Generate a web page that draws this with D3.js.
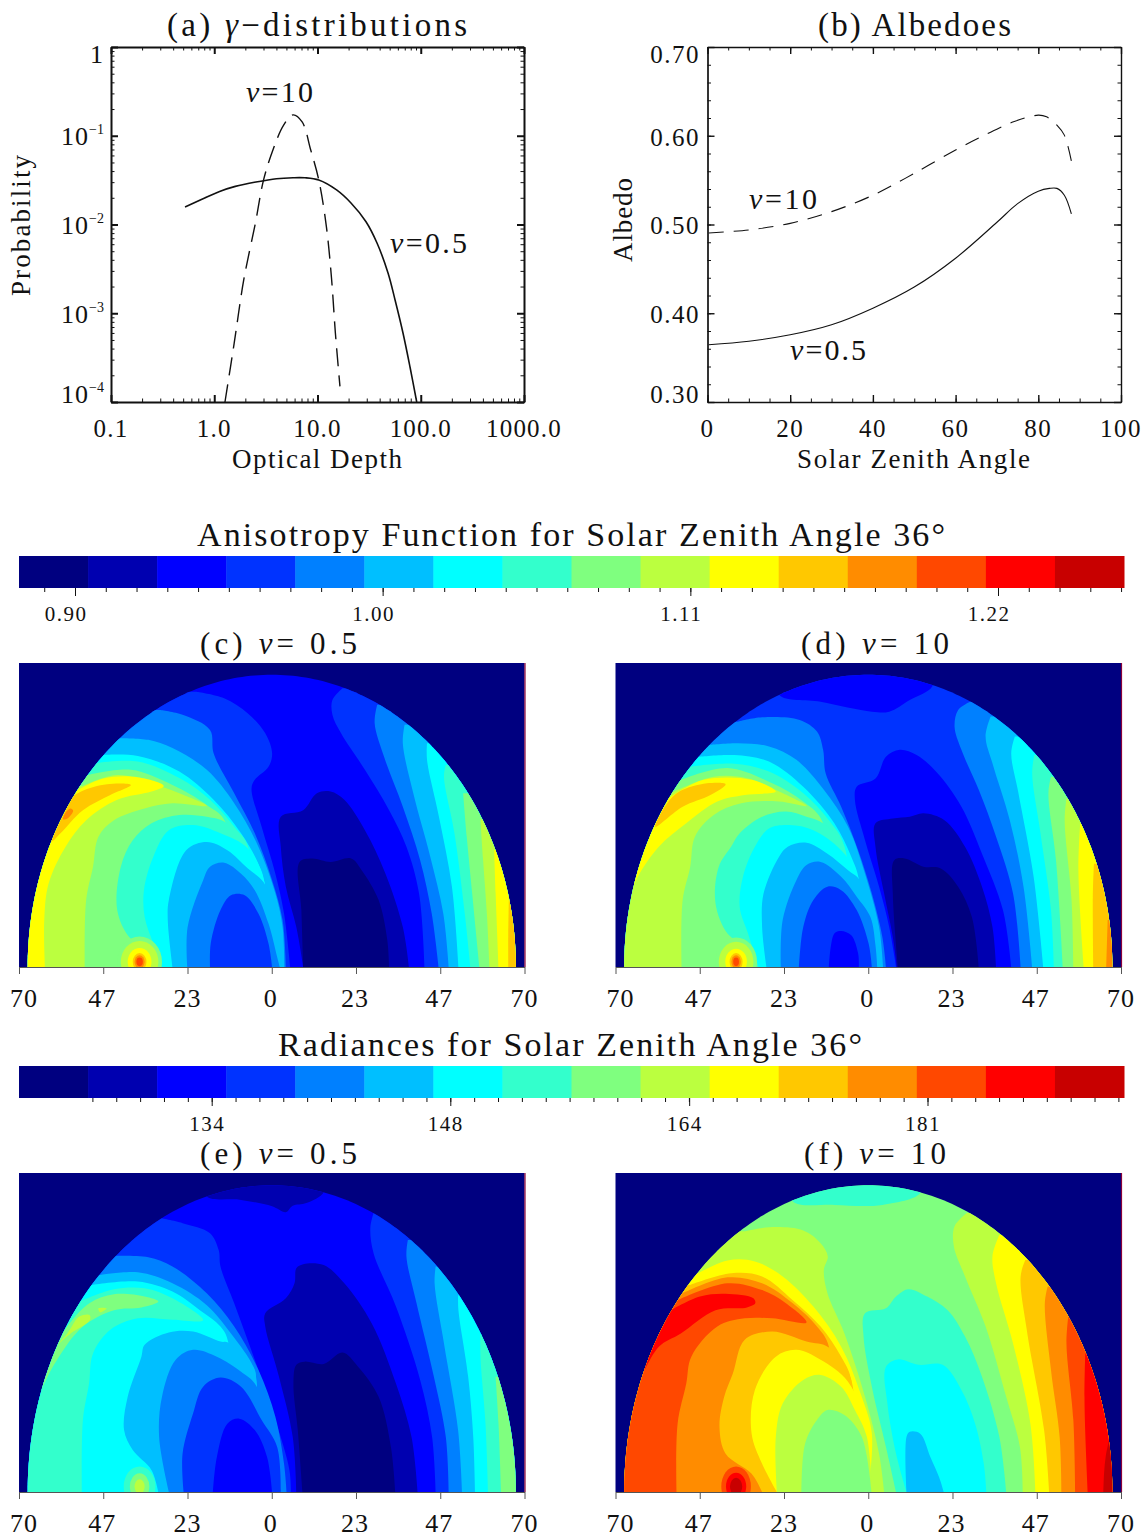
<!DOCTYPE html>
<html>
<head>
<meta charset="utf-8">
<script src="https://d3js.org/d3.v7.min.js"></script>
<style>
  body { margin: 0; background: #fff; }
  text { font-family: "Liberation Serif", serif; fill: #111; }
  .axis path, .axis line { stroke: #111; }
</style>
</head>
<body>
<div id="chart"></div>
<script>
// ---- top panels ----
const gamma05 = [[0.521,.01574],[0.75,.0191],[1.127,.0236],[1.6,.0269],[2.535,.0301],[4,.0328],[5.79,.03366],[7.57,.0336],[10.28,.0317],[15.3,.0245],[21.1,.01747],[29.5,.01075],[37.7,.00619],[48.2,.00284],[56.4,.00141],[67.3,.000599],[78.7,.000248],[91.4,.0001]];
const gamma10 = [[1.27,.0001],[1.56,.00046],[1.93,.00237],[2.5,.0103],[3,.0316],[3.7,.069],[4.7,.132],[5.8,.172],[7.1,.143],[8.6,.069],[10.3,.0316],[12.2,.0094],[13.7,.0024],[14.9,.0006],[16.5,.00015]];
const albedo05 = [[0.3,.3645],[10,.3685],[20,.3757],[30,.387],[40,.4057],[50,.4295],[60,.462],[70,.5025],[75,.5235],[80,.5375],[82.7,.5407],[84.5,.5407],[86.3,.533],[88,.5119]];
const albedo10 = [[0.3,.4905],[10,.4939],[20,.5013],[30,.5145],[40,.533],[50,.5576],[60,.584],[67,.6007],[74,.6157],[80,.6232],[82,.6213],[84.5,.612],[86.3,.6007],[88.2,.567]];

const depthTicks = [0.1, 1, 10, 100, 1000];
const depthLabels = ["0.1", "1.0", "10.0", "100.0", "1000.0"];
const probTicks = [1, 0.1, 0.01, 0.001, 0.0001];
const probExps = ["", "\u22121", "\u22122", "\u22123", "\u22124"];
const szaTicks = [0, 20, 40, 60, 80, 100];
const albedoTicks = [0.3, 0.4, 0.5, 0.6, 0.7];

// ---- colour levels and colour bars ----
const levelColors = ["#000080","#0000b0","#0000ff","#0033ff","#0080ff","#00bfff","#00ffff","#33ffcc","#7fff7f","#bbff3f","#ffff00","#ffc800","#ff8c00","#ff4800","#ff0000","#c80000"];
const anisoTicks = [0.905, 1.0, 1.105, 1.221];
const anisoLabels = ["0.90", "1.00", "1.11", "1.22"];
const radTicks = [134.2, 148.3, 163.9, 181.1];
const radLabels = ["134", "148", "164", "181"];

const angleTicks = [-70, -46.67, -23.33, 0, 23.33, 46.67, 70];
const angleLabels = ["70", "47", "23", "0", "23", "47", "70"];
const domeX = 67.6, domeY = 67.3;
const spotCentre = [-36.6, 1.2];

// contour outlines: [level, closure, [[view angle x, view angle y], ...]]
const panelC = [
  [3,"R",[[19.6,64.2],[16.8,61.5],[16.8,58.1],[19.2,53.8],[25.8,45.4],[32.5,36.1],[37.3,27.7],[40.8,16.9],[42.3,0]]],
  [4,"R",[[29.2,60.4],[28.5,56.1],[31.1,48.4],[36.3,36.9],[41.1,24.6],[44.3,12.3],[46.2,0]]],
  [5,"R",[[36.8,55.8],[36.3,51.5],[39.2,40],[43.9,25.4],[47.5,12.3],[49,0]]],
  [6,"R",[[43,51.5],[43,47.7],[46.3,34.6],[49.9,18.5],[51.7,0]]],
  [7,"R",[[48.2,46.5],[47.7,43.8],[50.6,30.8],[53.5,12],[55,0]]],
  [8,"R",[[53,40],[54,30],[55.5,17],[57.5,0]]],
  [9,"R",[[57.8,34],[58.5,25],[59.6,12],[60.3,0]]],
  [10,"R",[[61.6,27],[62,17],[62.8,0]]],
  [11,"R",[[65.7,17],[65.5,8],[65.5,0]]],
  [1,"B",[[8.7,0],[6.8,9.2],[3.9,18.5],[2.5,27.7],[2.5,34.6],[8.7,36.1],[12.5,40],[16.3,40.4],[20.1,38.5],[25.8,31.5],[31.5,21.5],[36.3,9.2],[38,0]]],
  [0,"B",[[8.7,0],[8.2,13.1],[7.7,24.2],[11.1,25],[16.3,24.2],[22,25],[24.9,22.3],[29.6,15.4],[32,6.2],[32.5,0]]],
  [3,"L",[[-20.9,63.4],[-13.2,61.9],[-6.6,58.4],[-1.8,53.8],[0.1,49.2],[-0.9,46.1],[-4.7,43.1],[-5.6,41.1],[-2.8,32.3],[1,21.5],[3.4,12.3],[5.1,0]]],
  [4,"L",[[-30.9,59.2],[-24.7,58.1],[-17.1,54.6],[-16.1,49.2],[-10.4,40],[-4.7,30.8],[0.1,20],[3,10.8],[3.9,0]]],
  [5,"L",[[-41.8,52.7],[-34.2,52.3],[-27.5,50.4],[-18,45.4],[-10.4,37.7],[-3.7,27.7],[1,16.9],[3,9.2],[3.5,0]]],
  [6,"L",[[-47.1,48.8],[-37.1,48.6],[-25.6,45],[-16.1,38.5],[-8.5,30.8],[-3.7,23.8],[-2,19.4],[-2,0]]],
  [7,"L",[[-49,46.9],[-37.1,47.3],[-25.6,43.5],[-17.1,38.5],[-10.4,32.3],[-6.6,27.7],[-6.6,0]]],
  [8,"L",[[-50.9,44.2],[-39,45.4],[-27.5,41.9],[-18,37.3],[-12.8,33.3],[-12.8,0]]],
  [7,"B",[[-32.3,0],[-34.2,3.8],[-39.5,6.9],[-42.8,13.1],[-41.8,23.1],[-38.5,29.2],[-33.3,33.1],[-25.6,35],[-18,34.6],[-12.8,33.3],[-6.6,27.7],[-6.6,0]]],
  [6,"B",[[-30.4,0],[-32.8,5.4],[-35.2,11.5],[-35.4,17.7],[-32.8,25.4],[-28.5,31.5],[-21.8,32.7],[-14.2,30.8],[-6.6,27.3],[-2,19.4],[-2,0]]],
  [5,"B",[[-27.5,0],[-28.8,10.8],[-28.5,15.4],[-23.7,26.9],[-18,28.8],[-12.3,26.9],[-6.6,22.7],[-2.3,19.6],[1,13.1],[3,4.6],[3.3,0]]],
  [4,"B",[[-23.4,0],[-23.3,9.2],[-19,20],[-17.1,23.1],[-13.2,24],[-8.5,21.5],[-4.7,17.7],[-0.9,10],[1.5,2.3],[2.2,0]]],
  [3,"B",[[-17.1,0],[-16.9,5.4],[-14.2,13.1],[-11.3,16.5],[-7.5,16.5],[-3.7,12.3],[-0.9,5.4],[0.1,0]]],
  [9,"L",[[-52.3,41.7],[-42.8,44.2],[-33.3,42.3],[-25.6,40],[-18,37.1],[-27.5,37.7],[-35.2,36.5],[-43.7,33.8],[-48,30],[-49.5,23.1],[-51.4,15.4],[-51.8,0]]],
  [10,"L",[[-54,40.6],[-46.6,43.4],[-37.1,43.7],[-29.9,41.7],[-33.3,40.4],[-42.8,38.5],[-51.4,33.8],[-57.1,27.7],[-61.8,19.2],[-63,10.8],[-62.8,0]]],
  [11,"C",[[-39,41.9],[-44.7,39.6],[-52.3,36.1],[-58.5,30.8],[-61.1,28.8],[-62.8,28.8],[-57.1,37.7],[-52.8,40.4],[-45.6,42.1]]],
  [12,"C",[[-55.7,36.5],[-55,36],[-56.6,34.2],[-57.8,34],[-56.9,35.8]]]
];
const spotC = [[8,6.2,5.8],[9,5.2,4.8],[10,3.3,3.2],[11,1.9,2],[12,1.4,1.5],[13,0.9,1]];

const panelD = [
  [2,"C",[[-24.7,62.7],[-13.2,61.1],[1,58.8],[5.8,58.8],[11.5,61.5],[17.7,64.6],[17.7,69],[-24.7,69]]],
  [4,"R",[[28.2,61.1],[24.9,59.2],[23.9,55.4],[25.8,50],[30.6,40.8],[35.4,30],[40.1,16.9],[42.2,0]]],
  [5,"R",[[33.9,57.7],[32.5,53.1],[34.4,46.9],[39.2,33.8],[43,18.5],[45.4,0]]],
  [6,"R",[[40.6,53.1],[39.6,49.2],[41.6,40],[45.8,20.8],[48.5,0]]],
  [7,"R",[[46,48.8],[45.4,44.6],[47.7,30.8],[50.6,13.1],[51.4,0]]],
  [8,"R",[[50.6,43.8],[49.9,40],[52,24.6],[53.9,0]]],
  [9,"R",[[54.9,38.8],[54.4,33.8],[56.3,15.4],[56.8,0]]],
  [10,"R",[[58.7,33.1],[58.2,22.3],[59.7,0]]],
  [11,"R",[[62.5,23.8],[62.2,16.9],[62.3,0]]],
  [12,"R",[[66.3,10.8],[65.9,0]]],
  [2,"B",[[7.7,0],[5.8,9.2],[3,18.5],[-0.9,29.2],[-3.7,38.5],[-3.2,41.5],[2,43.4],[4.9,48.4],[8.7,50],[13.4,48.8],[19.2,44.6],[25.8,36.9],[31.5,26.1],[37.3,13.1],[39.6,0]]],
  [1,"B",[[7.9,0],[6.8,6.9],[4.4,16.9],[2,27.7],[2,33.1],[6.8,34.2],[11.5,34.6],[15.3,35.4],[21.1,33.8],[26.8,27.7],[31.5,18.5],[34.4,9.2],[35.4,0]]],
  [0,"B",[[8.2,0],[6.8,16.9],[7.2,24.6],[10.1,25],[15.3,23.1],[20.1,22.7],[24.9,18.5],[28.7,11.5],[30.6,0]]],
  [4,"L",[[-36.1,56.5],[-29.4,57.5],[-19,56.9],[-14.2,54.2],[-12.5,50],[-11.8,44.6],[-7.5,36.9],[-2.8,26.9],[1,16.9],[3.9,6.9],[4.9,0]]],
  [5,"L",[[-44.2,51.1],[-36.1,51.5],[-27.5,50.8],[-19.9,47.7],[-12.3,40.8],[-5.6,32.3],[-0.9,21.5],[3,9.2],[4.1,0]]],
  [6,"L",[[-47.1,48.4],[-37.1,48.8],[-27.5,47.3],[-18,41.5],[-9.4,33.1],[-4.7,25.4],[-2.6,20.1],[-2.6,0]]],
  [7,"L",[[-49.5,46.1],[-37.1,46.8],[-27.5,45],[-18,40],[-10.9,33.8],[-6.6,27.7],[-6.6,0]]],
  [8,"L",[[-51.8,43.1],[-39,45.8],[-26.6,42.3],[-18,38.1],[-12.5,33.1],[-12.5,0]]],
  [7,"B",[[-32.3,0],[-34.2,4.6],[-39,7.7],[-42.3,14.6],[-41.4,23.1],[-38,27.7],[-35.6,30.8],[-29.4,34.6],[-22.8,35.8],[-17.1,34.6],[-12.5,33.1],[-6.6,27.7],[-6.6,0]]],
  [6,"B",[[-30.4,0],[-33.3,7.7],[-35.6,13.8],[-34.7,20.8],[-31.4,27.7],[-27.5,31.9],[-21.8,32.7],[-15.2,31.5],[-7.5,26.9],[-2.6,20.1],[-2.6,0]]],
  [5,"B",[[-28.2,0],[-29.4,9.2],[-29,16.9],[-24.7,25.4],[-22.3,27.7],[-17.1,28.6],[-11.3,26.1],[-5.6,22.3],[-2.3,20],[1,11.5],[3.4,1.5],[3.4,0]]],
  [4,"B",[[-24.2,0],[-23.7,10.8],[-19.9,20],[-17.1,23.5],[-13.2,24.2],[-7.5,20.8],[-3.2,16.2],[0.6,11.5],[2,5],[2.5,0]]],
  [3,"B",[[-19.2,0],[-18,9.2],[-15.2,15.4],[-11.3,18.5],[-7.5,17.7],[-3.2,13.1],[0.1,5.4],[1,0]]],
  [2,"B",[[-10.9,0],[-9.4,7.7],[-7.5,8.3],[-4.7,7.3],[-2.8,3.1],[-2.6,0]]],
  [9,"L",[[-53.7,40.4],[-42.8,43.8],[-33.3,43.4],[-24.7,40.4],[-17.1,37.1],[-24.7,38.1],[-35.2,37.7],[-42.8,35],[-48,30],[-49.3,23.1],[-51.4,15.4],[-51.7,0]]],
  [10,"L",[[-54.7,39.2],[-45.6,43.1],[-32.3,43.1],[-25.6,40.4],[-34.2,39.6],[-41.8,38.1],[-50.4,33.1],[-58,27.7],[-63.8,20.8],[-65.7,16.9]]],
  [11,"C",[[-39.5,42.1],[-44.7,42.3],[-52.3,40.4],[-55.7,37.7],[-59,32.3],[-51.4,36.9],[-43.7,39.6]]]
];
const spotD = [[8,5.8,5.6],[9,4.8,4.6],[10,3,3],[11,1.8,2],[12,1.3,1.5],[13,0.8,1]];

const panelE = [
  [1,"C",[[-18,64.9],[-8.5,64.1],[0.1,62.7],[3.9,61.4],[5.8,62.8],[9.6,63.4],[14.4,65.8],[14.4,69.3],[-18,69.3]]],
  [3,"R",[[28.2,61.2],[27.3,57.9],[28.2,52.4],[34.4,40.7],[41.1,24.6],[44.4,12.1],[45.4,0]]],
  [4,"R",[[37.7,55.3],[37.3,51.7],[40.1,41.4],[44.9,25.3],[48.2,12.1],[49,0]]],
  [5,"R",[[45.4,49.5],[45.1,45.8],[47.7,32.6],[51.6,13.6],[52.7,0]]],
  [6,"R",[[51.6,43.2],[51.7,39.9],[54.4,25.3],[55.8,12.1],[56.3,0]]],
  [7,"R",[[57.8,34.8],[57.8,29.7],[59.2,15],[59.9,0]]],
  [8,"R",[[62,25.3],[62.8,15],[63.5,0]]],
  [1,"B",[[6.8,0],[5.8,12.1],[2,25.3],[-1.8,36.3],[-1.8,39.2],[3.9,42.5],[6.3,45.8],[6.8,49.1],[8.7,50],[14.4,49.8],[20.1,45.8],[27.7,37],[34.4,23.8],[38.7,12.1],[40.4,0]]],
  [0,"B",[[8.5,0],[7.2,13.6],[6,23.8],[6.8,27.9],[9.1,28.6],[14.4,28.1],[19.6,30.6],[23.9,27.5],[29.6,20.9],[33,9.9],[34.2,0]]],
  [3,"L",[[-30.9,60.1],[-24.7,59],[-17.1,56.8],[-14.7,53.1],[-14.2,49.5],[-10.4,41.4],[-4.7,29],[1,15.8],[4.9,4.8],[5.3,0]]],
  [4,"L",[[-43.3,51.8],[-34.2,51.5],[-27.5,49.5],[-18,43.6],[-10.4,36.3],[-3.7,26.8],[1,16.5],[3.4,6.2],[4.1,0]]],
  [5,"L",[[-47.6,47.6],[-37.1,48.2],[-27.5,45.8],[-18,41],[-11.3,34.8],[-5.1,27.5],[-4.2,23.8],[-4.2,0]]],
  [6,"L",[[-50.2,45.4],[-37.1,46.2],[-27.5,44],[-19.9,39.9],[-14.2,36.3],[-12.1,33],[-12.1,0]]],
  [7,"L",[[-52.3,42.1],[-43.7,44.5],[-35.2,44.7],[-27.5,42.5],[-19,37.7],[-27.5,37.8],[-37.1,38.1],[-44.7,35.6],[-49.5,30.4],[-50.6,23.8],[-52.3,15.8],[-52.6,0]]],
  [5,"B",[[-31.4,0],[-33.3,4.8],[-38.5,9.2],[-40.9,13.6],[-39.9,20.9],[-36.1,29.7],[-35.2,32.3],[-28.5,35],[-21.8,35.2],[-14.2,33],[-12.1,32.8],[-8.5,29.7],[-5.1,27.5],[-4.2,24.2],[-4.2,0]]],
  [4,"B",[[-28.5,0],[-31.2,12.1],[-30.4,20.9],[-26.6,29],[-21.8,31.2],[-15.2,29.7],[-8.5,26.4],[-4.7,23.8],[0.1,14.3],[2.5,6.2],[3.1,0]]],
  [3,"B",[[-24.4,0],[-24.7,8.4],[-21.8,17.2],[-19,23.1],[-14.2,25.1],[-8.5,23.1],[-2.8,15.8],[1.5,9.9],[2.5,0]]],
  [2,"B",[[-16.3,0],[-15.2,7.7],[-12.3,15],[-9,16.1],[-4.7,13.6],[-1.3,7.7],[0.1,0]]],
  [8,"C",[[-31.4,41.8],[-35.2,42.9],[-43.7,43.4],[-50.4,41.5],[-56,37],[-60,32],[-66,18],[-70,10],[-63.8,22.4],[-59.6,28.8],[-52.3,36.3],[-43.7,39.9],[-36.1,40.5]]],
  [9,"C",[[-50.4,38.8],[-53.3,38.5],[-56.6,34.8],[-59,32.6],[-55.7,34.8],[-50.4,37.7]]],
  [9,"C",[[-48,40.3],[-45.7,40.3],[-47.5,39.4]]]
];
const spotE = [[7,4.4,4.4],[8,2.7,2.9],[9,1.4,1.6]];

const panelF = [
  [7,"C",[[-20.9,63.8],[-9.4,63],[3.9,63],[14.4,65.6],[14.4,69.3],[-20.9,69.3]]],
  [9,"R",[[27.3,61.2],[23.9,58.3],[23.7,53.9],[26.8,47.3],[32.5,36.3],[38.2,20.9],[42,9.9],[42.8,0]]],
  [10,"R",[[36.3,56.4],[34.4,51.7],[35.4,45.8],[40.1,32.6],[44.9,15],[46.3,0]]],
  [11,"R",[[43.5,50.9],[42.2,47.3],[43.9,35.6],[48.7,13.6],[50.1,0]]],
  [12,"R",[[49.7,45.1],[48.9,41.4],[50.6,26.8],[53,12.1],[53.5,0]]],
  [13,"R",[[55.4,38.5],[54.9,32.6],[56.8,15.8],[57.3,0]]],
  [14,"R",[[60.1,30.4],[59.9,19.4],[60.8,0]]],
  [15,"R",[[66.9,12],[65.8,8],[65.3,4],[65.1,0]]],
  [7,"B",[[7.7,0],[4.9,9.9],[1,23.1],[-1.3,34.1],[-0.9,39.2],[4.9,40.3],[7.7,42.9],[11.1,44.5],[16.3,42.9],[22,39.9],[26.8,34.1],[31.5,25.3],[36.3,12.1],[38.2,0]]],
  [6,"B",[[10.6,0],[7.7,8.4],[5.3,19.4],[4.9,27.5],[8.2,29.1],[13.9,27.9],[20.6,27.9],[25.8,22.4],[29.6,15],[32,6.2],[32.7,0]]],
  [5,"B",[[10.6,0],[10.6,12.1],[11.5,13.2],[14.4,12.8],[17.2,7.7],[19.6,3.3],[20.9,0]]],
  [9,"L",[[-34.2,57.2],[-27.5,58.1],[-18,57.4],[-13.2,54.6],[-11.2,51.7],[-12.3,48.7],[-11.3,43.6],[-6.6,34.8],[-0.9,20.9],[3,8.4],[4.4,0]]],
  [10,"L",[[-47.1,48],[-39,50.8],[-31.4,50.6],[-23.7,47.3],[-15.2,40.7],[-7.5,31.9],[-1.8,20.9],[1,12.8],[0,0]]],
  [11,"L",[[-49.5,45.4],[-37.9,48],[-29.4,47.3],[-20.9,42.1],[-13.2,36.3],[-7.5,29.7],[-4.7,24.6],[-4.7,0]]],
  [12,"L",[[-51.4,43.6],[-39,47.1],[-29.4,45.8],[-20.9,41.4],[-14.2,36.3],[-10.9,31.9],[-10.9,0]]],
  [11,"B",[[-29.4,0],[-32.3,4],[-39.5,8.4],[-41.2,14.3],[-39.9,20.9],[-37.5,26],[-34.2,33.4],[-26.6,35.2],[-17.1,33],[-10.9,31.7],[-4.7,24.6],[-4.7,0]]],
  [10,"B",[[-25.3,0],[-29.4,6.2],[-32.3,12.8],[-31.4,22.4],[-25.6,29.7],[-19.9,31.2],[-13.2,29],[-5.6,24.2],[0.1,12.8],[0.1,0]]],
  [9,"B",[[-25.3,0],[-25.6,12.1],[-23.7,19.4],[-18,24.6],[-13.2,25.7],[-7.5,23.1],[-3.7,18],[-0.4,12.1],[1,0]]],
  [8,"B",[[-18.5,0],[-17.5,10.6],[-14.2,15.8],[-11.3,18],[-6.6,16.9],[-1.8,12.1],[0.9,0]]],
  [13,"L",[[-52.8,42.1],[-39,45.8],[-29.4,44.3],[-22.8,41.4],[-17.1,37.2],[-26.6,38.1],[-34.2,38.1],[-41.8,36.3],[-49,29.7],[-50.4,23.8],[-52.8,15],[-53.1,0]]],
  [14,"L",[[-54.7,39.9],[-46.6,42.9],[-39.5,43.5],[-31.8,42.5],[-31.3,41.4],[-33.6,40.5],[-42.3,39.9],[-51.9,34.8],[-58,31.9],[-61.9,26.8]]]
];
const spotF = [[13,4.1,4.4],[14,2.8,3],[15,1.7,1.9]];

// ---- page ----
const svg = d3.select("#chart").append("svg").attr("width", 1148).attr("height", 1539);

// text helper, parts are [string, italic]
function label(x, y, parts, o) {
  o = o || {};
  const t = svg.append("text")
    .attr("x", x).attr("y", y)
    .attr("dominant-baseline", "central")
    .attr("text-anchor", o.anchor || "start")
    .style("font-size", (o.size || 25) + "px");
  if (o.len) t.attr("textLength", o.len).attr("lengthAdjust", "spacing");
  if (o.ls) t.style("letter-spacing", o.ls + "px");
  if (o.rot) t.attr("transform", `rotate(${o.rot} ${x} ${y})`);
  parts.forEach(p => t.append("tspan").style("font-style", p[1] ? "italic" : "normal").text(p[0]));
  return t;
}

// ---- (a) and (b) ----
const boxTop = 47, boxBottom = 402;
const xDepth = d3.scaleLog().domain([0.1, 1000]).range([111, 524]);
const yProb = d3.scaleLog().domain([0.0001, 1]).range([boxBottom, boxTop]);
const xSza = d3.scaleLinear().domain([0, 100]).range([707.5, 1121]);
const yAlb = d3.scaleLinear().domain([0.3, 0.7]).range([boxBottom, boxTop]);

function decades(lo, hi) {
  const out = [];
  for (let e = lo; e < hi; e++) for (let k = 2; k < 10; k++) out.push(k * Math.pow(10, e));
  return out;
}

function box(x, y, xMajor, xMinor, yMajor, yMinor, sw) {
  const [x0, x1] = x.range(), [y1, y0] = y.range();
  const sides = [
    [d3.axisBottom(x), `translate(0,${y1})`, xMajor, xMinor],
    [d3.axisTop(x), `translate(0,${y0})`, xMajor, xMinor],
    [d3.axisLeft(y), `translate(${x0},0)`, yMajor, yMinor],
    [d3.axisRight(y), `translate(${x1},0)`, yMajor, yMinor]
  ];
  sides.forEach(s => {
    svg.append("g").attr("class", "axis").attr("transform", s[1])
      .call(s[0].tickValues(s[3]).tickSize(-3.5).tickSizeOuter(0).tickFormat(""))
      .attr("stroke-width", 1);
    svg.append("g").attr("class", "axis").attr("transform", s[1])
      .call(s[0].tickValues(s[2]).tickSize(-7).tickSizeOuter(0).tickFormat(""))
      .attr("stroke-width", sw);
  });
}

box(xDepth, yProb, depthTicks, decades(-1, 3), probTicks, decades(-4, 0), 2);
box(xSza, yAlb, szaTicks, d3.range(0, 101, 5), albedoTicks, d3.range(0.3, 0.701, 0.02), 1.4);

const lineA = d3.line().x(d => xDepth(d[0])).y(d => yProb(d[1])).curve(d3.curveCatmullRom);
const lineB = d3.line().x(d => xSza(d[0])).y(d => yAlb(d[1])).curve(d3.curveCatmullRom);
svg.append("path").attr("d", lineA(gamma05)).attr("fill", "none").attr("stroke", "#111").attr("stroke-width", 1.6);
svg.append("path").attr("d", lineA(gamma10)).attr("fill", "none").attr("stroke", "#111").attr("stroke-width", 1.4).attr("stroke-dasharray", "18 9");
svg.append("path").attr("d", lineB(albedo05)).attr("fill", "none").attr("stroke", "#111").attr("stroke-width", 1.1);
svg.append("path").attr("d", lineB(albedo10)).attr("fill", "none").attr("stroke", "#111").attr("stroke-width", 1.1).attr("stroke-dasharray", "15 10");

depthTicks.forEach((v, i) => label(xDepth(v), 428, [[depthLabels[i]]], {anchor: "middle", ls: 1.2}));
const probY = [54, 136, 225, 314, 394];
probTicks.forEach((v, i) => {
  if (i === 0) { label(103, probY[i], [["1"]], {anchor: "end", size: 26}); return; }
  label(89, probY[i], [["10"]], {anchor: "end", ls: 1, size: 26});
  label(89, probY[i] - 7, [[probExps[i]]], {size: 14});
});
szaTicks.forEach(v => label(xSza(v), 428, [[String(v)]], {anchor: "middle", ls: 1.5}));
const albY = [394, 314, 225, 137, 54];
albedoTicks.forEach((v, i) => label(700, albY[i], [[v.toFixed(2)]], {anchor: "end", ls: 1.5}));

label(167, 25, [["(a) "], ["\u03b3", 1], ["\u2212distributions"]], {size: 33, len: 300});
label(818, 25, [["(b) Albedoes"]], {size: 33, len: 193});
label(232, 459, [["Optical Depth"]], {size: 27, len: 170});
label(797, 459, [["Solar Zenith Angle"]], {size: 27, len: 233});
label(21, 296, [["Probability"]], {size: 27, len: 141, rot: -90});
label(623, 262, [["Albedo"]], {size: 27, len: 84, rot: -90});
label(246, 91, [["\u03bd", 1], ["=10"]], {size: 30, len: 67});
label(390, 242, [["\u03bd", 1], ["=0.5"]], {size: 30, len: 77});
label(749, 198, [["\u03bd", 1], ["=10"]], {size: 30, len: 68});
label(790, 349, [["\u03bd", 1], ["=0.5"]], {size: 30, len: 76});

// ---- colour bars ----
function colourBar(yTop, ticks, labels, x0, x1, labelShift) {
  const band = d3.scaleBand().domain(d3.range(levelColors.length)).range([19, 1124]);
  svg.selectAll(null).data(levelColors).join("rect")
    .attr("x", (d, i) => band(i)).attr("y", yTop)
    .attr("width", band.bandwidth() + 0.5).attr("height", 32)
    .attr("fill", d => d);
  const scale = d3.scaleLog().domain([ticks[0], ticks[3]]).range([x0, x1]);
  const step = (x1 - x0) / 30;
  const minor = d3.range(-5, 45).map(k => x0 + k * step).filter(p => p >= 19 && p <= 1124).map(p => scale.invert(p));
  svg.append("g").attr("class", "axis").attr("transform", `translate(0,${yTop + 32})`)
    .call(d3.axisBottom(scale).tickValues(minor).tickSize(4).tickSizeOuter(0).tickFormat(""))
    .call(g => g.select(".domain").remove())
    .attr("stroke-width", 1);
  svg.append("g").attr("class", "axis").attr("transform", `translate(0,${yTop + 32})`)
    .call(d3.axisBottom(scale).tickValues(ticks).tickSize(8).tickSizeOuter(0).tickFormat(""))
    .call(g => g.select(".domain").remove())
    .attr("stroke-width", 1);
  ticks.forEach((v, i) => label(scale(v) - labelShift, yTop + 58, [[labels[i]]], {anchor: "middle", size: 21, ls: 1.5}));
}

label(197, 534, [["Anisotropy Function for Solar Zenith Angle 36\u00b0"]], {size: 34, len: 748});
colourBar(556, anisoTicks, anisoLabels, 75, 998, 9);
label(278, 1044, [["Radiances for Solar Zenith Angle 36\u00b0"]], {size: 34, len: 584});
colourBar(1066, radTicks, radLabels, 211.7, 927.5, 4.5);

label(200, 643, [["(c)  "], ["\u03bd", 1], ["=  0.5"]], {size: 31, len: 157});
label(801, 643, [["(d)  "], ["\u03bd", 1], ["=  10"]], {size: 31, len: 148});
label(200, 1153, [["(e)  "], ["\u03bd", 1], ["=  0.5"]], {size: 31, len: 157});
label(804, 1153, [["(f)  "], ["\u03bd", 1], ["=  10"]], {size: 31, len: 142});

// ---- contour panels ----
const panelWidth = 505.5;
const angleDx = [5, -1, 0, -1, -1, -1, 0];

function contourPanel(id, left, top, bottom, base, layers, spot) {
  const x = d3.scaleLinear().domain([-70, 70]).range([left, left + panelWidth]);
  const y = d3.scaleLinear().domain([0, 70]).range([bottom, top]);
  const clip = d3.line().x(d => x(domeX * Math.sin(d))).y(d => y(domeY * Math.cos(d)));

  svg.append("rect").attr("x", left).attr("y", top).attr("width", panelWidth).attr("height", bottom - top).attr("fill", levelColors[0]);
  svg.append("clipPath").attr("id", "dome" + id).append("path")
    .attr("d", clip(d3.range(-Math.PI / 2, Math.PI / 2 + 0.001, Math.PI / 180)) + "Z");
  const g = svg.append("g").attr("clip-path", `url(#dome${id})`);
  g.append("rect").attr("x", left).attr("y", top).attr("width", panelWidth).attr("height", bottom - top).attr("fill", levelColors[base]);

  const open = d3.line().x(d => x(d[0])).y(d => y(d[1])).curve(d3.curveCatmullRom);
  const closed = d3.line().x(d => x(d[0])).y(d => y(d[1])).curve(d3.curveCatmullRomClosed);
  layers.forEach(l => {
    const pts = l[2];
    const first = pts[0], last = pts[pts.length - 1];
    let d;
    if (l[1] === "C") d = closed(pts);
    else if (l[1] === "B") d = open(pts) + "Z";
    else {
      const side = x(l[1] === "L" ? -90 : 90);
      d = open(pts) + `L${side},${y(last[1])}L${side},${y(first[1])}Z`;
    }
    g.append("path").attr("d", d).attr("fill", levelColors[l[0]]);
  });
  g.selectAll(null).data(spot).join("ellipse")
    .attr("cx", x(spotCentre[0])).attr("cy", y(spotCentre[1]))
    .attr("rx", d => x(d[1]) - x(0)).attr("ry", d => y(0) - y(d[2]))
    .attr("fill", d => levelColors[d[0]]);

  // dark sliver along the right edge
  svg.append("line").attr("x1", left + panelWidth + 0.5).attr("x2", left + panelWidth + 0.5).attr("y1", top).attr("y2", bottom)
    .attr("stroke", "#8a0038").attr("stroke-width", 1.2);

  svg.append("g").attr("transform", `translate(0,${bottom})`)
    .call(d3.axisBottom(x).tickValues(angleTicks).tickSize(7).tickSizeOuter(0).tickFormat(""))
    .call(a => a.selectAll("path,line").attr("stroke", "#555"));
  angleTicks.forEach((v, i) => label(x(v) + angleDx[i], bottom + 31, [[angleLabels[i]]], {anchor: "middle", size: 26, ls: 1}));
}

contourPanel("C", 19, 663, 967, 2, panelC, spotC);
contourPanel("D", 615.5, 663, 967, 3, panelD, spotD);
contourPanel("E", 19, 1173, 1492, 2, panelE, spotE);
contourPanel("F", 615.5, 1173, 1492, 8, panelF, spotF);
</script>
</body>
</html>
